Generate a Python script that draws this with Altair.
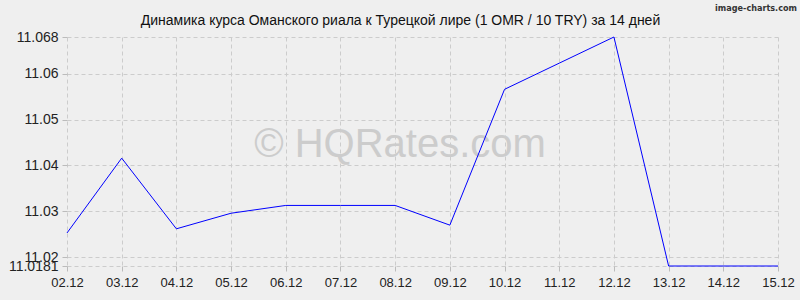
import altair as alt
import pandas as pd

dates = ["02.12", "03.12", "04.12", "05.12", "06.12", "07.12", "08.12",
         "09.12", "10.12", "11.12", "12.12", "13.12", "14.12", "15.12"]
rates = [11.0253, 11.0416, 11.0262, 11.0296, 11.0313, 11.0313, 11.0313,
         11.0270, 11.0566, 11.0623, 11.068, 11.0181, 11.0181, 11.0181]
y_ticks = [11.0181, 11.02, 11.03, 11.04, 11.05, 11.06, 11.068]
title_text = "Динамика курса Оманского риала к Турецкой лире (1 OMR / 10 TRY) за 14 дней"
watermark = "© HQRates.com"
credit = "image-charts.com"

df = pd.DataFrame({"date": dates, "rate": rates})
FONT = "Liberation Sans"

x_enc = alt.X("date:O", sort=dates,
              scale=alt.Scale(type="point", padding=0),
              axis=alt.Axis(title=None, labelAngle=0, labelFontSize=13,
                            labelColor="#222222", labelFont=FONT,
                            labelPadding=5, tickSize=5, tickColor="#bbbbbb",
                            domain=False, grid=True, gridDash=[4, 3],
                            gridColor="#cccccc", labelFlush=False,
                            labelBound=False, labelOverlap=False))
y_enc = alt.Y("rate:Q",
              scale=alt.Scale(domain=[11.0181, 11.068], nice=False, zero=False),
              axis=alt.Axis(title=None, values=y_ticks,
                            labelExpr="'' + datum.value",
                            labelFontSize=14, labelColor="#222222",
                            labelFont=FONT, labelPadding=4, tickSize=5,
                            tickColor="#bbbbbb", domain=False, grid=True,
                            gridDash=[4, 3], gridColor="#cccccc",
                            labelOverlap=False, labelBound=False,
                            labelFlush=False))

line = alt.Chart(df).mark_line(color="#0000ff", strokeWidth=1).encode(
    x=x_enc, y=y_enc)

wm = alt.Chart(pd.DataFrame({"t": [watermark]})).mark_text(
    fontSize=40, font=FONT, color="#cccccc", align="center",
    baseline="middle").encode(
    text="t:N", x=alt.value(333), y=alt.value(108))

cr = alt.Chart(pd.DataFrame({"t": [credit]})).mark_text(
    fontSize=9, font="DejaVu Sans Condensed", fontWeight="bold",
    color="#333333", align="right", baseline="middle").encode(
    text="t:N", x=alt.value(730), y=alt.value(-29))

chart = alt.layer(wm, line, cr).properties(
    width=711, height=229,
    autosize=alt.AutoSizeParams(type="none"),
    padding={"left": 67, "top": 37, "right": 22, "bottom": 34},
    background="#efefef",
    title=alt.TitleParams(title_text, fontSize=14, font=FONT,
                          fontWeight="normal", color="#111111",
                          anchor="middle", offset=0, dx=-22, dy=24,
                          frame="group"),
).configure_view(stroke=None)

chart.save("out.html", embed_options={"renderer": "svg", "actions": False})
